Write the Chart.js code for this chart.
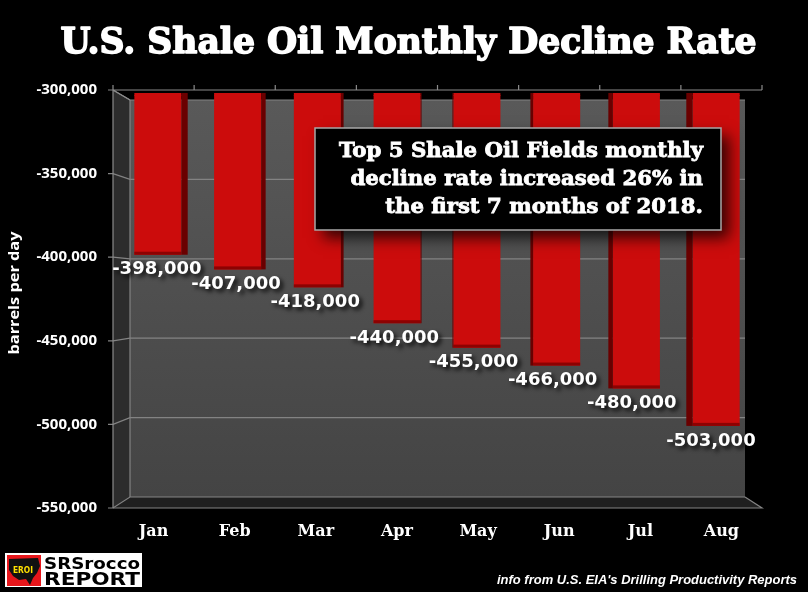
<!DOCTYPE html>
<html>
<head>
<meta charset="utf-8">
<title>U.S. Shale Oil Monthly Decline Rate</title>
<script src="https://cdn.jsdelivr.net/npm/chart.js@4.4.0/dist/chart.umd.min.js"></script>
<style>
  html, body { margin: 0; padding: 0; background: #000; }
  #chartCanvas { display: block; }
</style>
</head>
<body>
<canvas id="chartCanvas" width="808" height="592"></canvas>
<script>
// datos
const months = ['Jan', 'Feb', 'Mar', 'Apr', 'May', 'Jun', 'Jul', 'Aug'];
const declineRate = [-398000, -407000, -418000, -440000, -455000, -466000, -480000, -503000];
const yTickValues = [-300000, -350000, -400000, -450000, -500000, -550000];
const yMin = -550000;
const yMax = -300000;

const titleText = 'U.S. Shale Oil Monthly Decline Rate';
const noteLines = ['Top 5 Shale Oil Fields monthly', 'decline rate increased 26% in', 'the first 7 months of 2018.'];
const yTitle = 'barrels per day';
const sourceText = "info from U.S. EIA's Drilling Productivity Reports";

const fmt = v => new Intl.NumberFormat('en-US').format(v);

// rango de los ejes del plano frontal (el plano frontal es un poco mayor que el area del grafico)
const xFrontMin = -0.5 + 5 / 81.125;
const xFrontMax = months.length - 0.5 - 6 / 81.125;
const yFrontMin = yMin + 5.5 * (yMax - yMin) / 418;
const yFrontMax = yMax - 5 * (yMax - yMin) / 418;

// texto escalado en horizontal para ocupar un ancho dado
function fitText(ctx, text, x, y, font, width, align, stroke) {
  ctx.font = font;
  const sx = width / ctx.measureText(text).width;
  ctx.save();
  ctx.translate(x, y);
  ctx.scale(sx, 1);
  ctx.textAlign = align;
  if (stroke) {
    ctx.lineWidth = stroke;
    ctx.lineJoin = 'round';
    ctx.strokeStyle = ctx.fillStyle;
    ctx.strokeText(text, 0, 0);
  }
  ctx.fillText(text, 0, 0);
  ctx.restore();
  return sx;
}

// marco 3D: paredes, suelo y lineas de la rejilla
const framePlugin = {
  id: 'frame3d',
  beforeDraw(chart) {
    const ctx = chart.ctx;
    ctx.save();
    ctx.fillStyle = '#000';
    ctx.fillRect(0, 0, chart.width, chart.height);
    ctx.restore();
  },
  beforeDatasetsDraw(chart) {
    const ctx = chart.ctx;
    const a = chart.chartArea;
    const yF = chart.scales.yFront;
    const yM = chart.scales.y;
    const xF = chart.scales.xFront;
    const fl = xF.getPixelForValue(-0.5);
    const fr = xF.getPixelForValue(months.length - 0.5);
    const bl = a.left + 12;
    const br = a.right - 11;
    const backY = v => 2 * yM.getPixelForValue(v) - yF.getPixelForValue(v);
    const fTop = yF.getPixelForValue(yMax), fBot = yF.getPixelForValue(yMin);
    const bTop = backY(yMax), bBot = backY(yMin);

    ctx.save();
    // pared del fondo
    const g = ctx.createLinearGradient(0, bTop, 0, bBot);
    g.addColorStop(0, '#595959');
    g.addColorStop(1, '#444444');
    ctx.fillStyle = g;
    ctx.fillRect(bl, bTop, br - bl, bBot - bTop);
    // pared izquierda
    ctx.fillStyle = '#2c2c2c';
    ctx.beginPath();
    ctx.moveTo(fl, fTop); ctx.lineTo(bl, bTop); ctx.lineTo(bl, bBot); ctx.lineTo(fl, fBot);
    ctx.closePath(); ctx.fill();
    // suelo
    ctx.fillStyle = '#1f1f1f';
    ctx.beginPath();
    ctx.moveTo(fl, fBot); ctx.lineTo(bl, bBot); ctx.lineTo(br, bBot); ctx.lineTo(fr, fBot);
    ctx.closePath(); ctx.fill();

    ctx.strokeStyle = '#838383';
    ctx.lineWidth = 1.2;
    yF.ticks.forEach(t => {
      const fy = yF.getPixelForValue(t.value);
      const by = backY(t.value);
      ctx.beginPath();
      ctx.moveTo(fl - 5, fy); ctx.lineTo(fl, fy); ctx.lineTo(bl, by); ctx.lineTo(br, by);
      ctx.stroke();
    });
    ctx.beginPath();
    ctx.moveTo(fl, fBot); ctx.lineTo(fr, fBot); ctx.lineTo(br, bBot);
    ctx.moveTo(bl, bTop); ctx.lineTo(bl, bBot);
    ctx.stroke();
    ctx.restore();
  },
  afterDatasetsDraw(chart) {
    const ctx = chart.ctx;
    const a = chart.chartArea;
    const yF = chart.scales.yFront;
    const xF = chart.scales.xFront;
    const fl = xF.getPixelForValue(-0.5);
    const fr = xF.getPixelForValue(months.length - 0.5);
    const fTop = yF.getPixelForValue(yMax), fBot = yF.getPixelForValue(yMin);
    const meta = chart.getDatasetMeta(0);

    ctx.save();
    // caras laterales y borde inferior de las barras
    meta.data.forEach((el, i) => {
      const p = el.getProps(['x', 'y', 'base', 'width'], true);
      const left = p.x - p.width / 2, right = p.x + p.width / 2;
      const top = Math.max(a.top - 2, Math.min(p.y, p.base));
      const bottom = Math.min(a.bottom, Math.max(p.y, p.base));
      const s = 1.8 * Math.abs(i - (months.length - 1) / 2);
      ctx.fillStyle = '#cc0c0c';
      ctx.fillRect(left, top, p.width, 3);
      ctx.fillStyle = '#8c0202';
      ctx.fillRect(left, bottom - 3, p.width, 3);
      ctx.fillStyle = '#6a0000';
      if (i < months.length / 2) ctx.fillRect(right, top, s, bottom - top);
      else ctx.fillRect(left - s, top, s, bottom - top);
    });

    // eje frontal
    ctx.strokeStyle = '#8a8a8a';
    ctx.lineWidth = 1.2;
    ctx.beginPath();
    ctx.moveTo(fl, fTop); ctx.lineTo(fl, fBot);
    ctx.moveTo(fl, fTop); ctx.lineTo(fr, fTop);
    ctx.moveTo(fl, fTop); ctx.lineTo(a.left + 12, 2 * chart.scales.y.getPixelForValue(yMax) - fTop);
    for (let k = 0; k <= months.length; k++) {
      const x = xF.getPixelForValue(k - 0.5);
      ctx.moveTo(x, fTop); ctx.lineTo(x, fTop - 5);
    }
    ctx.stroke();

    // etiquetas de valores
    ctx.font = 'bold 18px "DejaVu Sans"';
    ctx.textAlign = 'center';
    ctx.textBaseline = 'middle';
    ctx.fillStyle = '#ffffff';
    ctx.shadowColor = 'rgba(0,0,0,0.85)';
    ctx.shadowBlur = 4;
    ctx.shadowOffsetX = 3;
    ctx.shadowOffsetY = 3;
    meta.data.forEach((el, i) => {
      ctx.fillText(fmt(declineRate[i]), el.x - 1 - i * 0.6, el.y + 15);
    });
    ctx.restore();
  },
  afterDraw(chart) {
    const ctx = chart.ctx;
    ctx.save();
    ctx.fillStyle = '#ffffff';
    ctx.textBaseline = 'alphabetic';
    // titulo
    fitText(ctx, titleText, 408.5, 53, 'bold 36px "DejaVu Serif"', 696, 'center', 1.6);

    // cuadro de texto
    ctx.save();
    ctx.shadowColor = 'rgba(0,0,0,0.75)';
    ctx.shadowBlur = 14;
    ctx.shadowOffsetX = 8;
    ctx.shadowOffsetY = 8;
    ctx.fillStyle = '#000';
    ctx.fillRect(315, 128, 406, 102);
    ctx.restore();
    ctx.strokeStyle = '#a8a8a8';
    ctx.lineWidth = 1.5;
    ctx.strokeRect(315, 128, 406, 102);
    ctx.fillStyle = '#ffffff';
    ctx.font = 'bold 20px "DejaVu Serif"';
    const sx = 364 / ctx.measureText(noteLines[0]).width;
    noteLines.forEach((line, i) => {
      ctx.save();
      ctx.translate(703, 157 + i * 27.8);
      ctx.scale(sx, 1);
      ctx.textAlign = 'right';
      ctx.lineWidth = 0.8;
      ctx.strokeStyle = '#ffffff';
      ctx.strokeText(line, 0, 0);
      ctx.fillText(line, 0, 0);
      ctx.restore();
    });

    // titulo del eje y
    ctx.save();
    ctx.translate(19, 293);
    ctx.rotate(-Math.PI / 2);
    fitText(ctx, yTitle, 0, 0, 'bold 14px "Open Sans"', 123, 'center');
    ctx.restore();

    // fuente
    ctx.save();
    ctx.shadowColor = 'rgba(0,0,0,0.9)';
    ctx.shadowBlur = 2;
    ctx.shadowOffsetX = 1;
    ctx.shadowOffsetY = 1;
    fitText(ctx, sourceText, 797, 584, 'italic bold 13px "Liberation Sans"', 300, 'right');
    ctx.restore();

    // logo
    ctx.fillStyle = '#ffffff';
    ctx.fillRect(5, 553, 137, 34);
    ctx.fillStyle = '#e8161b';
    ctx.fillRect(7, 555, 34, 31);
    ctx.fillStyle = '#111';
    ctx.beginPath();
    ctx.moveTo(9, 559); ctx.lineTo(38, 558); ctx.lineTo(40, 566); ctx.lineTo(37, 573);
    ctx.lineTo(33, 578); ctx.lineTo(30, 585); ctx.lineTo(26, 579); ctx.lineTo(19, 580);
    ctx.lineTo(13, 576); ctx.lineTo(9, 570);
    ctx.closePath(); ctx.fill();
    ctx.fillStyle = '#ffe100';
    fitText(ctx, 'EROI', 23, 573, 'bold 9px "DejaVu Sans"', 20, 'center');
    ctx.fillStyle = '#000';
    fitText(ctx, 'SRSrocco', 44, 569, 'bold 16px "DejaVu Sans"', 96, 'left');
    fitText(ctx, 'REPORT', 44, 585, 'bold 17px "DejaVu Sans"', 96, 'left');
    ctx.restore();
  }
};

const ctx = document.getElementById('chartCanvas').getContext('2d');

const chart = new Chart(ctx, {
  type: 'bar',
  data: {
    labels: months,
    datasets: [{
      label: 'barrels per day',
      data: declineRate,
      backgroundColor: '#cc0c0c',
      borderWidth: 0,
      categoryPercentage: 1,
      barPercentage: 0.59
    }]
  },
  options: {
    responsive: false,
    animation: false,
    layout: { padding: { left: 0, right: 52, top: 95, bottom: 0 } },
    plugins: {
      legend: { display: false },
      title: { display: false },
      tooltip: { enabled: false }
    },
    scales: {
      x: { display: false, offset: true },
      y: { display: false, min: yMin, max: yMax },
      // ejes del plano frontal (solo rotulos)
      xFront: {
        type: 'linear',
        axis: 'x',
        position: 'bottom',
        bounds: 'data',
        offset: false,
        min: xFrontMin,
        max: xFrontMax,
        grid: { display: false, drawTicks: false, offset: false },
        border: { display: false },
        afterBuildTicks: s => { s.ticks = months.map((m, i) => ({ value: i })); },
        ticks: {
          autoSkip: false,
          maxRotation: 0,
          padding: 20,
          color: '#ffffff',
          font: { family: '"DejaVu Serif"', size: 16, weight: 'bold' },
          callback: v => months[v]
        },
        afterFit: s => { s.height = 89.5; }
      },
      yFront: {
        type: 'linear',
        axis: 'y',
        position: 'left',
        bounds: 'data',
        min: yFrontMin,
        max: yFrontMax,
        grid: { display: false, drawTicks: false },
        border: { display: false },
        afterBuildTicks: s => { s.ticks = yTickValues.map(v => ({ value: v })); },
        ticks: {
          autoSkip: false,
          padding: 21,
          color: '#ffffff',
          font: { family: '"Open Sans"', size: 15, weight: 'bold' },
          callback: v => fmt(v)
        },
        afterFit: s => { s.width = 118; }
      }
    }
  },
  plugins: [framePlugin]
});
</script>
</body>
</html>
